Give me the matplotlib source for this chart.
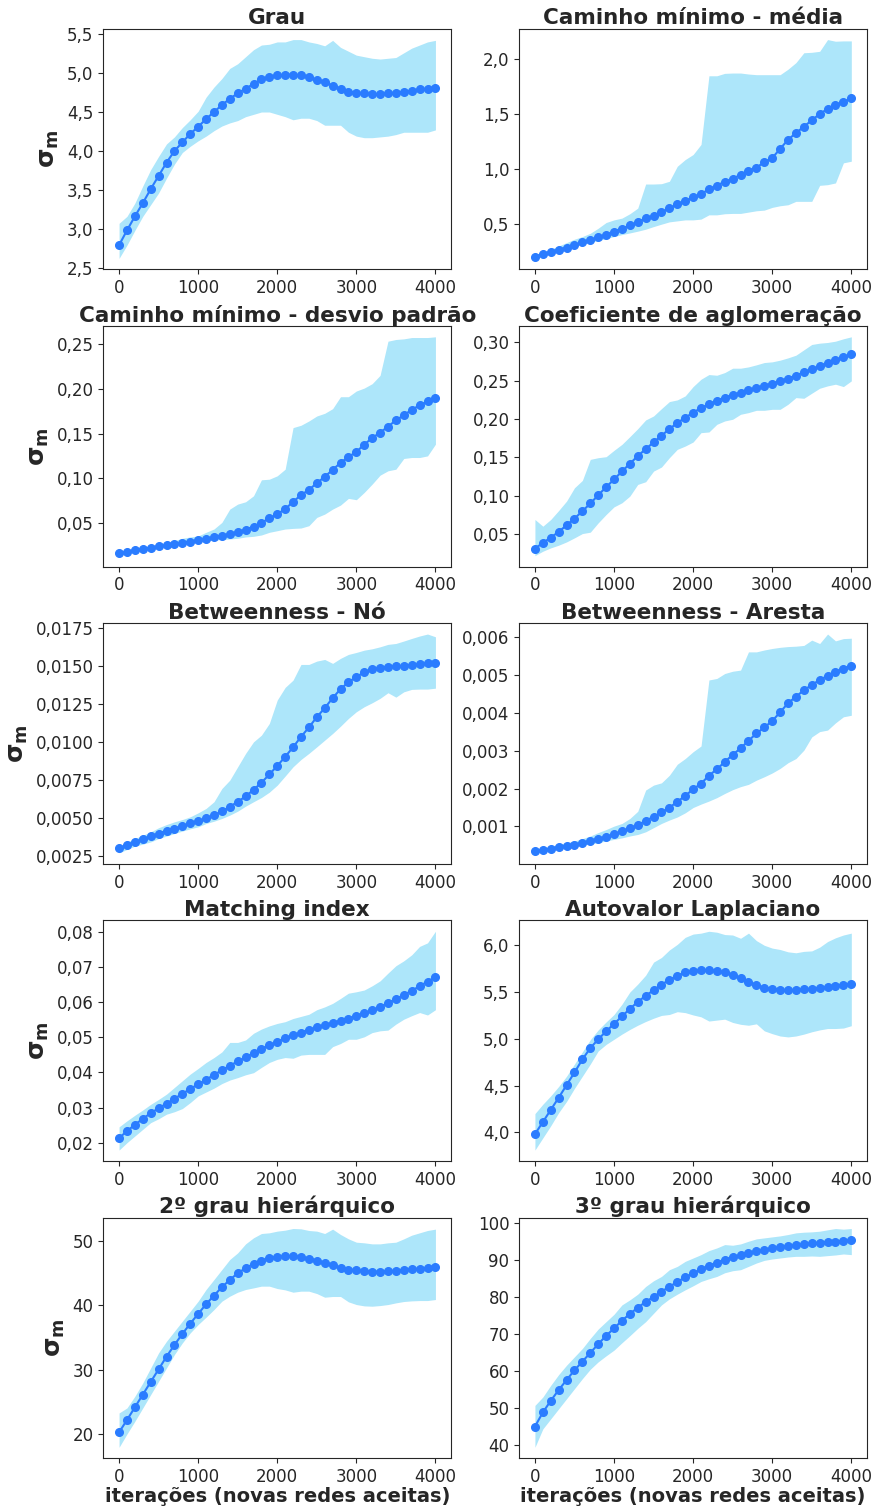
import numpy as np
import matplotlib
matplotlib.use("Agg")
import matplotlib.pyplot as plt
import seaborn as sns
from matplotlib.ticker import FuncFormatter

iters = list(range(0, 4001, 100))

titles = ["Grau", "Caminho mínimo - média", "Caminho mínimo - desvio padrão",
          "Coeficiente de aglomeração", "Betweenness - Nó", "Betweenness - Aresta",
          "Matching index", "Autovalor Laplaciano", "2º grau hierárquico",
          "3º grau hierárquico"]
decimals = [1, 1, 2, 2, 4, 3, 2, 1, 0, 0]

grau_mean = [2.79, 2.98, 3.16, 3.33, 3.51, 3.68, 3.85, 4.00, 4.11, 4.22, 4.31, 4.41, 4.50, 4.59,
             4.67, 4.74, 4.80, 4.86, 4.92, 4.95, 4.97, 4.98, 4.98, 4.97, 4.95, 4.91, 4.88, 4.84,
             4.80, 4.76, 4.75, 4.74, 4.73, 4.73, 4.74, 4.75, 4.76, 4.77, 4.79, 4.80, 4.81]
grau_up = [3.07, 3.16, 3.33, 3.55, 3.76, 3.93, 4.09, 4.18, 4.30, 4.40, 4.51, 4.69, 4.82, 4.93,
           5.06, 5.12, 5.21, 5.30, 5.36, 5.37, 5.40, 5.40, 5.43, 5.43, 5.40, 5.38, 5.35, 5.42,
           5.33, 5.28, 5.23, 5.21, 5.19, 5.18, 5.19, 5.20, 5.26, 5.32, 5.36, 5.40, 5.42]
grau_low = [2.62, 2.79, 2.98, 3.16, 3.31, 3.46, 3.65, 3.83, 3.98, 4.06, 4.13, 4.19, 4.26, 4.32,
            4.36, 4.39, 4.44, 4.47, 4.50, 4.50, 4.47, 4.44, 4.40, 4.42, 4.42, 4.39, 4.33, 4.33,
            4.33, 4.24, 4.19, 4.17, 4.17, 4.18, 4.19, 4.21, 4.24, 4.24, 4.24, 4.24, 4.27]

cam_mean = [0.200, 0.225, 0.246, 0.265, 0.283, 0.304, 0.330, 0.353, 0.378, 0.400, 0.430, 0.457,
            0.485, 0.515, 0.550, 0.573, 0.607, 0.643, 0.677, 0.710, 0.741, 0.772, 0.815, 0.848,
            0.885, 0.909, 0.949, 0.986, 1.013, 1.062, 1.100, 1.184, 1.267, 1.328, 1.386, 1.444,
            1.502, 1.548, 1.584, 1.612, 1.646]
cam_up = [0.216, 0.237, 0.268, 0.298, 0.329, 0.360, 0.384, 0.414, 0.460, 0.512, 0.536, 0.552,
          0.592, 0.643, 0.863, 0.863, 0.866, 0.888, 1.025, 1.086, 1.132, 1.224, 1.850, 1.850,
          1.872, 1.875, 1.875, 1.866, 1.860, 1.860, 1.860, 1.860, 1.910, 1.970, 2.060, 2.064,
          2.073, 2.180, 2.165, 2.168, 2.168]
cam_low = [0.185, 0.206, 0.231, 0.255, 0.277, 0.298, 0.313, 0.332, 0.347, 0.365, 0.384, 0.402,
           0.417, 0.433, 0.451, 0.475, 0.497, 0.518, 0.527, 0.536, 0.536, 0.543, 0.582, 0.582,
           0.592, 0.595, 0.595, 0.607, 0.619, 0.625, 0.650, 0.665, 0.674, 0.705, 0.705, 0.705,
           0.851, 0.857, 0.873, 1.056, 1.071]

desv_mean = [0.0161, 0.0176, 0.0195, 0.0210, 0.0224, 0.0239, 0.0250, 0.0262, 0.0277, 0.0292,
             0.0306, 0.0325, 0.0340, 0.0359, 0.0377, 0.0400, 0.0426, 0.0459, 0.0504, 0.0552,
             0.0600, 0.0656, 0.0738, 0.0813, 0.0872, 0.0947, 0.1018, 0.1096, 0.1174, 0.1241,
             0.1297, 0.1379, 0.1453, 0.1513, 0.1580, 0.1651, 0.1707, 0.1770, 0.1818, 0.1863, 0.1900]
desv_up = [0.0154, 0.0176, 0.0202, 0.0220, 0.0239, 0.0254, 0.0273, 0.0303, 0.0329, 0.0344,
           0.0355, 0.0396, 0.0433, 0.0507, 0.0656, 0.0712, 0.0738, 0.0805, 0.0984, 0.0991,
           0.1029, 0.1103, 0.1569, 0.1595, 0.1643, 0.1699, 0.1729, 0.1781, 0.1915, 0.1915,
           0.1979, 0.2012, 0.2061, 0.2154, 0.2537, 0.2556, 0.2563, 0.2578, 0.2578, 0.2578, 0.2586]
desv_low = [0.0135, 0.0157, 0.0180, 0.0198, 0.0210, 0.0224, 0.0239, 0.0254, 0.0269, 0.0280,
            0.0288, 0.0299, 0.0310, 0.0314, 0.0321, 0.0329, 0.0344, 0.0351, 0.0366, 0.0396,
            0.0414, 0.0433, 0.0440, 0.0444, 0.0470, 0.0563, 0.0600, 0.0656, 0.0701, 0.0776,
            0.0761, 0.0843, 0.0936, 0.1036, 0.1085, 0.1103, 0.1223, 0.1234, 0.1234, 0.1252, 0.1383]

coef_mean = [0.0308, 0.0382, 0.0452, 0.0526, 0.0613, 0.0700, 0.0797, 0.0897, 0.1006, 0.1111,
             0.1211, 0.1316, 0.1416, 0.1517, 0.1608, 0.1695, 0.1783, 0.1870, 0.1949, 0.2018,
             0.2084, 0.2145, 0.2193, 0.2241, 0.2280, 0.2315, 0.2346, 0.2380, 0.2407, 0.2437,
             0.2463, 0.2498, 0.2529, 0.2568, 0.2612, 0.2651, 0.2690, 0.2734, 0.2773, 0.2808, 0.2847]
coef_up = [0.0688, 0.0600, 0.0688, 0.0805, 0.0928, 0.1102, 0.1198, 0.1473, 0.1495, 0.1508,
           0.1591, 0.1669, 0.1770, 0.1874, 0.1988, 0.2040, 0.2136, 0.2228, 0.2250, 0.2302,
           0.2424, 0.2520, 0.2581, 0.2572, 0.2607, 0.2664, 0.2664, 0.2681, 0.2708, 0.2738,
           0.2747, 0.2769, 0.2799, 0.2834, 0.2904, 0.2974, 0.2991, 0.3000, 0.3017, 0.3048, 0.3074]
coef_low = [0.0216, 0.0273, 0.0317, 0.0352, 0.0395, 0.0448, 0.0504, 0.0522, 0.0644, 0.0753,
            0.0853, 0.0906, 0.0993, 0.1146, 0.1181, 0.1320, 0.1373, 0.1495, 0.1604, 0.1647,
            0.1700, 0.1822, 0.1831, 0.1931, 0.1975, 0.1997, 0.2062, 0.2084, 0.2114, 0.2114,
            0.2127, 0.2127, 0.2193, 0.2280, 0.2271, 0.2337, 0.2402, 0.2433, 0.2455, 0.2424, 0.2498]

bno_mean = [0.00303, 0.00325, 0.00346, 0.00364, 0.00382, 0.00401, 0.00419, 0.00434, 0.00450,
            0.00467, 0.00482, 0.00500, 0.00522, 0.00546, 0.00577, 0.00610, 0.00645, 0.00689,
            0.00735, 0.00790, 0.00846, 0.00906, 0.00969, 0.01037, 0.01099, 0.01167, 0.01226,
            0.01292, 0.01351, 0.01397, 0.01430, 0.01463, 0.01480, 0.01491, 0.01498, 0.01500,
            0.01504, 0.01509, 0.01513, 0.01520, 0.01524]
bno_up = [0.00314, 0.00346, 0.00368, 0.00390, 0.00412, 0.00439, 0.00460, 0.00478, 0.00493,
          0.00511, 0.00537, 0.00566, 0.00610, 0.00697, 0.00752, 0.00840, 0.00928, 0.01004,
          0.01048, 0.01125, 0.01279, 0.01362, 0.01410, 0.01513, 0.01513, 0.01535, 0.01546,
          0.01520, 0.01553, 0.01579, 0.01592, 0.01607, 0.01616, 0.01629, 0.01645, 0.01651,
          0.01667, 0.01684, 0.01700, 0.01713, 0.01695]
bno_low = [0.00274, 0.00296, 0.00318, 0.00331, 0.00346, 0.00368, 0.00384, 0.00401, 0.00417,
           0.00432, 0.00445, 0.00467, 0.00482, 0.00500, 0.00522, 0.00548, 0.00581, 0.00610,
           0.00638, 0.00673, 0.00719, 0.00779, 0.00840, 0.00888, 0.00928, 0.00971, 0.01015,
           0.01059, 0.01107, 0.01158, 0.01202, 0.01235, 0.01261, 0.01290, 0.01327, 0.01298,
           0.01333, 0.01349, 0.01351, 0.01351, 0.01357]

bar_mean = [0.000350, 0.000385, 0.000420, 0.000455, 0.000490, 0.000525, 0.000570, 0.000622,
            0.000675, 0.000728, 0.000790, 0.000870, 0.000956, 0.001035, 0.001150, 0.001255,
            0.001370, 0.001500, 0.001650, 0.001810, 0.001980, 0.002130, 0.002340, 0.002510,
            0.002700, 0.002890, 0.003060, 0.003260, 0.003450, 0.003610, 0.003780, 0.004010,
            0.004250, 0.004420, 0.004590, 0.004730, 0.004860, 0.004970, 0.005080, 0.005160, 0.005240]
bar_up = [0.00039, 0.00043, 0.00048, 0.00053, 0.00057, 0.00062, 0.00068, 0.00075, 0.00084,
          0.00092, 0.00101, 0.00108, 0.00121, 0.00140, 0.00196, 0.00209, 0.00215, 0.00235,
          0.00264, 0.00279, 0.00297, 0.00312, 0.00486, 0.00490, 0.00503, 0.00509, 0.00512,
          0.00560, 0.00560, 0.00565, 0.00569, 0.00572, 0.00574, 0.00575, 0.00577, 0.00591,
          0.00582, 0.00607, 0.00589, 0.00595, 0.00596]
bar_low = [0.000306, 0.000350, 0.000385, 0.000420, 0.000446, 0.000480, 0.000510, 0.000540,
           0.000570, 0.000620, 0.000660, 0.000700, 0.000750, 0.000790, 0.000860, 0.000970,
           0.001080, 0.001170, 0.001250, 0.001360, 0.001500, 0.001590, 0.001670, 0.001760,
           0.001870, 0.001970, 0.002050, 0.002110, 0.002220, 0.002310, 0.002410, 0.002530,
           0.002680, 0.002790, 0.003010, 0.003360, 0.003500, 0.003540, 0.003730, 0.003890, 0.003930]

mi_mean = [0.0213, 0.0233, 0.0251, 0.0268, 0.0284, 0.0298, 0.0311, 0.0325, 0.0339, 0.0353,
           0.0366, 0.0379, 0.0393, 0.0406, 0.0419, 0.0431, 0.0443, 0.0455, 0.0467, 0.0477,
           0.0487, 0.0497, 0.0506, 0.0513, 0.0521, 0.0528, 0.0534, 0.0541, 0.0547, 0.0553,
           0.0561, 0.0568, 0.0576, 0.0586, 0.0597, 0.0608, 0.0620, 0.0632, 0.0645, 0.0658, 0.0670]
mi_up = [0.0245, 0.0262, 0.0278, 0.0293, 0.0309, 0.0323, 0.0338, 0.0357, 0.0376, 0.0395,
         0.0411, 0.0428, 0.0442, 0.0458, 0.0485, 0.0485, 0.0492, 0.0511, 0.0523, 0.0532,
         0.0539, 0.0544, 0.0553, 0.0559, 0.0565, 0.0578, 0.0586, 0.0596, 0.0610, 0.0625,
         0.0629, 0.0634, 0.0646, 0.0660, 0.0682, 0.0703, 0.0717, 0.0734, 0.0758, 0.0768, 0.0801]
mi_low = [0.0179, 0.0200, 0.0219, 0.0238, 0.0257, 0.0268, 0.0281, 0.0288, 0.0297, 0.0314,
          0.0333, 0.0344, 0.0355, 0.0368, 0.0378, 0.0385, 0.0393, 0.0399, 0.0414, 0.0428,
          0.0437, 0.0442, 0.0440, 0.0449, 0.0451, 0.0451, 0.0451, 0.0473, 0.0482, 0.0494,
          0.0494, 0.0501, 0.0513, 0.0518, 0.0520, 0.0537, 0.0551, 0.0561, 0.0570, 0.0563, 0.0578]

auto_mean = [3.98, 4.11, 4.24, 4.37, 4.505, 4.64, 4.78, 4.90, 4.995, 5.08, 5.16, 5.24, 5.32,
             5.395, 5.46, 5.52, 5.58, 5.63, 5.675, 5.71, 5.725, 5.735, 5.735, 5.725, 5.71, 5.68,
             5.645, 5.61, 5.575, 5.545, 5.535, 5.525, 5.52, 5.52, 5.53, 5.535, 5.545, 5.555,
             5.567, 5.578, 5.59]
auto_up = [4.20, 4.30, 4.39, 4.49, 4.60, 4.73, 4.86, 4.99, 5.095, 5.18, 5.26, 5.37, 5.50, 5.585,
           5.68, 5.82, 5.87, 5.95, 6.01, 6.085, 6.12, 6.13, 6.15, 6.14, 6.115, 6.11, 6.075, 6.13,
           6.05, 6.00, 5.97, 5.955, 5.93, 5.92, 5.935, 5.94, 5.98, 6.04, 6.08, 6.11, 6.13]
auto_low = [3.81, 3.94, 4.07, 4.21, 4.33, 4.47, 4.60, 4.73, 4.87, 4.94, 4.995, 5.05, 5.10, 5.145,
            5.185, 5.22, 5.25, 5.26, 5.29, 5.28, 5.255, 5.235, 5.19, 5.20, 5.21, 5.175, 5.155,
            5.145, 5.16, 5.085, 5.055, 5.03, 5.02, 5.03, 5.05, 5.075, 5.095, 5.11, 5.11, 5.115, 5.14]

h2_mean = [20.26, 22.18, 24.16, 26.13, 28.10, 30.07, 32.04, 33.86, 35.57, 37.18, 38.69, 40.19,
           41.54, 42.84, 43.98, 45.02, 45.80, 46.47, 46.99, 47.35, 47.56, 47.66, 47.66, 47.56,
           47.30, 46.99, 46.63, 46.32, 45.85, 45.59, 45.49, 45.33, 45.28, 45.28, 45.33, 45.43,
           45.54, 45.64, 45.74, 45.90, 46.00]
h2_up = [23.27, 24.05, 25.87, 27.94, 30.28, 32.62, 34.43, 35.99, 37.55, 39.10, 40.66, 42.48,
         44.03, 45.59, 47.15, 48.18, 49.58, 50.52, 51.19, 51.30, 51.56, 51.71, 51.97, 51.92,
         51.66, 51.56, 51.19, 51.87, 51.04, 50.36, 49.84, 49.74, 49.58, 49.58, 49.74, 49.84,
         50.36, 50.93, 51.30, 51.66, 51.87]
h2_low = [17.93, 20.00, 21.98, 24.05, 26.13, 28.20, 30.28, 32.36, 34.17, 35.73, 37.03, 38.17,
          39.36, 40.66, 41.44, 42.06, 42.48, 42.73, 43.00, 43.00, 42.63, 42.42, 42.06, 42.22,
          42.22, 41.85, 41.28, 41.39, 41.39, 40.56, 40.14, 39.93, 39.88, 39.98, 40.14, 40.40,
          40.61, 40.71, 40.76, 40.76, 40.92]

h3_mean = [44.88, 48.69, 51.86, 54.76, 57.48, 60.11, 62.47, 64.82, 67.18, 69.45, 71.44, 73.53,
           75.34, 77.06, 78.60, 79.96, 81.41, 82.68, 84.04, 85.22, 86.40, 87.40, 88.40, 89.21,
           90.03, 90.75, 91.21, 91.75, 92.29, 92.66, 93.11, 93.38, 93.65, 93.93, 94.20, 94.47,
           94.65, 94.83, 94.92, 95.10, 95.29]
h3_up = [50.59, 52.86, 56.03, 58.93, 61.47, 63.74, 66.00, 68.72, 71.26, 73.26, 75.25, 77.79,
         79.15, 80.69, 82.77, 84.32, 85.49, 87.31, 88.21, 89.57, 90.48, 91.39, 92.48, 93.20,
         94.11, 93.93, 94.29, 95.01, 95.65, 95.92, 96.19, 96.46, 96.83, 97.28, 97.46, 97.55,
         97.73, 98.10, 98.46, 98.28, 98.46]
h3_low = [39.26, 44.24, 46.96, 49.68, 52.40, 55.12, 57.84, 60.38, 62.38, 64.01, 65.55, 67.54,
          69.45, 71.44, 73.26, 75.52, 77.79, 79.42, 80.69, 81.87, 82.96, 84.13, 84.86, 85.49,
          86.49, 87.04, 87.31, 88.21, 89.12, 89.84, 90.21, 90.48, 90.75, 90.93, 90.93, 91.02,
          90.93, 91.12, 91.30, 91.57, 91.39]

means = [grau_mean, cam_mean, desv_mean, coef_mean, bno_mean, bar_mean, mi_mean, auto_mean,
         h2_mean, h3_mean]
uppers = [grau_up, cam_up, desv_up, coef_up, bno_up, bar_up, mi_up, auto_up, h2_up, h3_up]
lowers = [grau_low, cam_low, desv_low, coef_low, bno_low, bar_low, mi_low, auto_low, h2_low,
          h3_low]

sns.set_style("ticks")
plt.rcParams['font.family'] = ['DejaVu Sans']

fig, axes = plt.subplots(5, 2, figsize=(8.75, 15.08), dpi=100)
fig.subplots_adjust(left=0.118, right=0.991, top=0.981, bottom=0.033, wspace=0.195, hspace=0.235)


def comma_formatter(nd):
    """tick labels with a decimal comma"""
    return FuncFormatter(lambda v, pos: ("{:.%df}" % nd).format(v).replace('.', ','))


for i, ax in enumerate(axes.flat):
    ax.fill_between(iters, lowers[i], uppers[i], color='#ade6fa', linewidth=0)
    ax.plot(iters, means[i], color='#2a7cff', marker='o', markersize=5.5, linewidth=1.5)
    ax.set_title(titles[i], fontsize=15.5, fontweight='bold', pad=3)
    ax.yaxis.set_major_formatter(comma_formatter(decimals[i]))
    ax.tick_params(labelsize=12)
    ax.set_xticks([0, 1000, 2000, 3000, 4000])
    if i % 2 == 0:
        ax.set_ylabel(r'$\mathbf{\sigma_m}$', fontsize=18)
    if i >= 8:
        ax.set_xlabel('iterações (novas redes aceitas)', fontsize=14, fontweight='bold', labelpad=1)

fig.savefig('out.png', dpi=100)
